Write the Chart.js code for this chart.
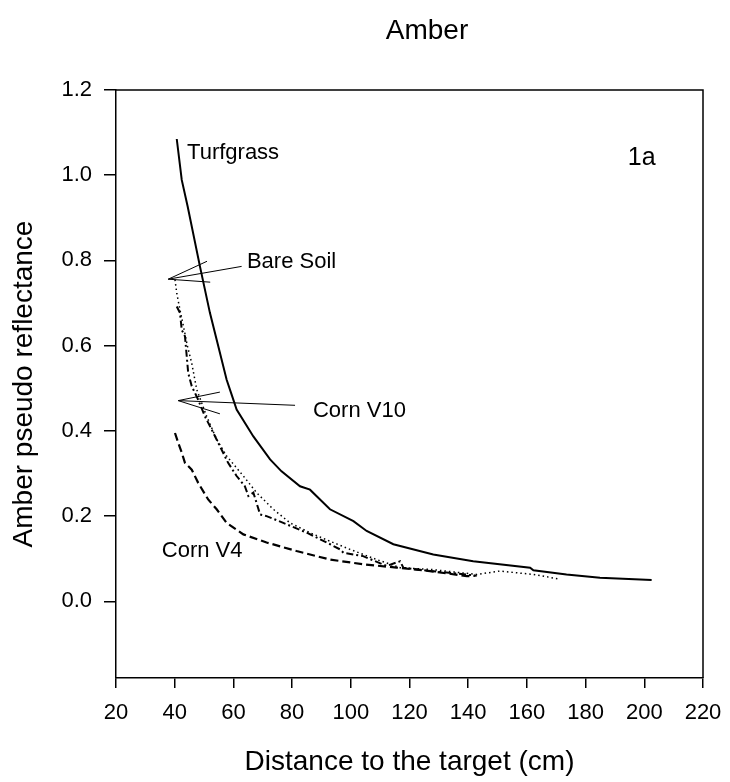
<!DOCTYPE html>
<html>
<head>
<meta charset="utf-8">
<title>Amber</title>
<script src="https://cdn.jsdelivr.net/npm/chart.js@4.4.0/dist/chart.umd.min.js"></script>
<style>
  html, body { margin: 0; padding: 0; background: #fff; }
  #wrap { width: 730px; height: 782px; position: relative; }
</style>
</head>
<body>
<div id="wrap"><canvas id="chart"></canvas></div>
<script>
'use strict';

const FONT = "'Liberation Sans', Arial, sans-serif";

// tick labels
const xTicks = [20, 40, 60, 80, 100, 120, 140, 160, 180, 200, 220];
const yTicks = [0, 0.2, 0.4, 0.6, 0.8, 1.0, 1.2];

// Turfgrass (solid)
const turfX = [40.7, 42.4, 44.4, 48.6, 52.0, 54.3, 57.7, 59.4, 61.1, 66.8, 72.5, 76.4, 82.7, 86.1, 92.9, 100.9, 105.4, 114.5, 128.1, 141.7, 161.1, 162.2, 173.5, 184.9, 202.5];
const turfY = [1.085, 0.989, 0.927, 0.786, 0.677, 0.614, 0.520, 0.485, 0.450, 0.387, 0.333, 0.305, 0.270, 0.262, 0.216, 0.188, 0.165, 0.134, 0.110, 0.094, 0.079, 0.073, 0.063, 0.055, 0.050];

// Bare Soil (dotted)
const soilX = [40.1, 40.7, 41.8, 43.0, 44.3, 45.8, 47.5, 50.9, 54.3, 57.7, 63.4, 67.9, 73.6, 79.3, 86.1, 92.9, 99.7, 108.8, 116.8, 127.0, 142.9, 150.8, 162.2, 171.3];
const soilY = [0.755, 0.723, 0.684, 0.645, 0.600, 0.559, 0.497, 0.434, 0.380, 0.341, 0.294, 0.255, 0.216, 0.184, 0.161, 0.141, 0.122, 0.098, 0.079, 0.075, 0.063, 0.071, 0.063, 0.052];

// Corn V10 (dash-dot)
const v10X = [40.7, 41.8, 42.4, 43.5, 44.6, 45.8, 48.0, 50.3, 52.6, 55.4, 58.2, 61.1, 63.9, 65.1, 66.8, 69.1, 71.3, 77.0, 85.0, 91.8, 96.3, 97.5, 104.2, 112.2, 116.8, 117.9, 127.0, 135.0, 142.9];
const v10Y = [0.692, 0.677, 0.637, 0.622, 0.536, 0.505, 0.473, 0.434, 0.403, 0.364, 0.325, 0.294, 0.270, 0.247, 0.255, 0.204, 0.200, 0.184, 0.161, 0.138, 0.122, 0.114, 0.106, 0.083, 0.094, 0.079, 0.071, 0.066, 0.060];

// Corn V4 (dashed)
const v4X = [40.1, 41.2, 42.4, 43.5, 45.8, 48.0, 51.4, 54.3, 57.7, 63.4, 71.3, 81.5, 92.9, 104.2, 115.6, 127.0, 139.5, 142.3];
const v4Y = [0.395, 0.372, 0.349, 0.325, 0.309, 0.278, 0.239, 0.216, 0.184, 0.157, 0.138, 0.118, 0.098, 0.087, 0.079, 0.071, 0.059, 0.060];

// text labels and arrows, in data units
const notes = [
  { text: 'Turfgrass', x: 44.2, y: 1.052 },
  { text: '1a', x: 194.4, y: 1.04, size: 25 },
  { text: 'Bare Soil', x: 64.6, y: 0.797 },
  { text: 'Corn V10', x: 87.1, y: 0.446 },
  { text: 'Corn V4', x: 35.6, y: 0.118 }
];
const arrows = [
  { tip: [37.8, 0.756], tail: [62.8, 0.786], barbs: [[51.0, 0.798], [52.1, 0.749]] },
  { tip: [41.2, 0.471], tail: [81.0, 0.460], barbs: [[55.4, 0.491], [55.4, 0.440]] }
];

const pts = (xs, ys) => xs.map((x, i) => ({ x: x, y: ys[i] }));

const line = (label, xs, ys, width, dash) => ({
  label: label,
  data: pts(xs, ys),
  showLine: true,
  borderColor: '#000',
  borderWidth: width,
  borderDash: dash,
  pointRadius: 0,
  fill: false,
  tension: 0
});

const framePlugin = {
  id: 'frame',
  beforeDatasetsDraw(chart) {
    const { ctx, chartArea: a } = chart;
    ctx.save();
    ctx.strokeStyle = '#000';
    ctx.lineWidth = 1.5;
    ctx.beginPath();
    ctx.moveTo(a.left, a.top);
    ctx.lineTo(a.right, a.top);
    ctx.lineTo(a.right, a.bottom);
    ctx.stroke();
    ctx.restore();
  }
};

const notesPlugin = {
  id: 'notes',
  afterDatasetsDraw(chart) {
    const { ctx, scales: { x, y } } = chart;
    const px = p => [x.getPixelForValue(p[0]), y.getPixelForValue(p[1])];
    ctx.save();
    ctx.fillStyle = '#000';
    ctx.textBaseline = 'middle';
    ctx.textAlign = 'left';
    notes.forEach(n => {
      ctx.font = (n.size || 22) + 'px ' + FONT;
      ctx.fillText(n.text, x.getPixelForValue(n.x), y.getPixelForValue(n.y));
    });
    ctx.strokeStyle = '#000';
    ctx.lineWidth = 1;
    arrows.forEach(a => {
      const t = px(a.tip);
      [a.tail].concat(a.barbs).forEach(e => {
        const p = px(e);
        ctx.beginPath();
        ctx.moveTo(t[0], t[1]);
        ctx.lineTo(p[0], p[1]);
        ctx.stroke();
      });
    });
    // chart title
    ctx.font = '28px ' + FONT;
    ctx.textAlign = 'center';
    ctx.fillText('Amber', 427, 31);
    ctx.restore();
  }
};

const canvas = document.querySelector('#chart');
const ctx = canvas.getContext('2d');

const chart = new Chart(ctx, {
  type: 'scatter',
  data: {
    datasets: [
      line('Turfgrass', turfX, turfY, 2, []),
      line('Bare Soil', soilX, soilY, 1.5, [1.5, 3]),
      line('Corn V10', v10X, v10Y, 2, [7, 3, 2, 3]),
      line('Corn V4', v4X, v4Y, 2.2, [8, 4])
    ]
  },
  options: {
    responsive: true,
    maintainAspectRatio: false,
    animation: false,
    layout: { padding: { top: 90, right: 27, bottom: 0, left: 0 } },
    plugins: {
      legend: { display: false },
      title: { display: false },
      tooltip: { enabled: false }
    },
    scales: {
      x: {
        type: 'linear',
        min: 20,
        max: 220,
        afterBuildTicks: s => { s.ticks = xTicks.map(v => ({ value: v })); },
        afterFit: s => { s.height = 104; s.paddingRight = 0; s.paddingLeft = 0; },
        ticks: {
          autoSkip: false,
          maxRotation: 0,
          padding: 12,
          color: '#000',
          font: { family: FONT, size: 22 },
          callback: v => String(v)
        },
        grid: { drawOnChartArea: false, drawTicks: true, tickLength: 10, color: '#000', lineWidth: 1.5 },
        border: { display: true, color: '#000', width: 1.5 },
        title: {
          display: true,
          text: 'Distance to the target (cm)',
          color: '#000',
          font: { family: FONT, size: 28 },
          padding: { top: 0, bottom: 3 }
        }
      },
      y: {
        type: 'linear',
        min: -0.18,
        max: 1.2,
        afterBuildTicks: s => { s.ticks = yTicks.map(v => ({ value: v })); },
        afterFit: s => { s.width = 116; },
        ticks: {
          padding: 12,
          color: '#000',
          font: { family: FONT, size: 22 },
          callback: v => v.toFixed(1)
        },
        grid: { drawOnChartArea: false, drawTicks: true, tickLength: 12, color: '#000', lineWidth: 1.5 },
        border: { display: true, color: '#000', width: 1.5 },
        title: {
          display: true,
          text: 'Amber pseudo reflectance',
          color: '#000',
          font: { family: FONT, size: 28 },
          padding: { top: 7, bottom: 0 }
        }
      }
    }
  },
  plugins: [framePlugin, notesPlugin]
});
</script>
</body>
</html>
